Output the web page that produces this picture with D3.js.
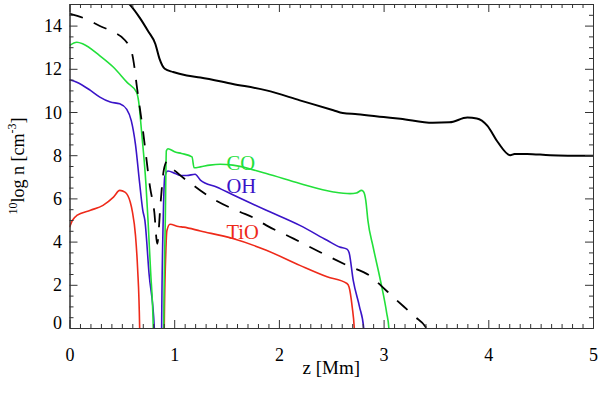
<!DOCTYPE html>
<html><head><meta charset="utf-8">
<script src="https://cdn.jsdelivr.net/npm/d3@7"></script>
<style>body{margin:0;background:#fff}svg{display:block}svg text{font-family:"Liberation Serif","Times New Roman",Times,"DejaVu Serif",serif !important}</style>
</head><body><svg id="c" width="600" height="395" font-family="Liberation Serif, Times New Roman, serif"></svg>
<script>
// ---- data: z [Mm] and 10log n [cm^-3] ----
const xTicks = [0,1,2,3,4,5];
const yTicks = [0,2,4,6,8,10,12,14];
const seriesLabels = ["CO","OH","TiO"];

const totalZ = [0.55,0.58,0.67,0.75,0.82,0.86,0.91,0.99,1.12,1.25,1.56,1.88,2.2,2.52,2.61,2.75,3.0,3.16,3.47,3.63,3.8,3.89,3.99,4.09,4.21,4.25,4.37,4.59,5.0];
const totalV = [15.1,14.95,14.37,13.75,13.15,12.46,12.0,11.85,11.69,11.6,11.3,11.0,10.54,10.08,9.95,9.9,9.77,9.69,9.5,9.52,9.74,9.7,9.37,8.61,8.0,8.05,8.06,8.0,7.97];

const dashZ = [0,0.16,0.29,0.42,0.53,0.59,0.62,0.64,0.70,0.77,0.81,0.838,0.87,0.90,0.93,0.94,1.02,1.25,1.37,1.63,1.76,1.88,2.14,2.39,2.65,2.89,2.98,3.09,3.3,3.4,3.43];
const dashV = [14.55,14.3,13.98,13.7,13.32,12.85,12.08,11.3,9.2,6.5,5.37,3.9,5.8,7.3,7.7,7.6,7.23,6.37,5.98,5.37,5.1,4.75,4.14,3.52,2.9,2.34,1.94,1.44,0.52,0.06,-0.2];

const coZ = [0,0.07,0.13,0.29,0.42,0.55,0.64,0.66,0.69,0.73,0.75,0.775,0.80,0.801,0.899,0.90,0.915,0.925,0.94,1.01,1.07,1.17,1.19,1.25,1.34,1.44,1.56,1.88,2.2,2.52,2.68,2.74,2.79,2.81,2.83,2.85,2.9,2.97,3.03,3.05,3.06];
const coV = [13.08,13.23,13.15,12.6,12.07,11.37,10.92,10.5,9.0,6.67,4.98,2.6,0,-1,-1,0,5.0,8.2,8.3,8.15,8.08,7.92,7.42,7.46,7.54,7.58,7.54,7.15,6.69,6.3,6.22,6.25,6.37,6.3,5.9,4.98,3.75,2.2,0.68,0,-1];

const ohZ = [0,0.07,0.2,0.29,0.39,0.48,0.547,0.59,0.63,0.67,0.70,0.72,0.76,0.81,0.811,0.879,0.88,0.895,0.91,0.94,1.01,1.06,1.12,1.2,1.25,1.41,1.56,1.88,2.2,2.46,2.58,2.65,2.67,2.71,2.77,2.81,2.82];
const ohV = [11.49,11.38,11.0,10.69,10.46,10.38,10.12,9.6,8.5,6.7,5.45,4.98,2.5,0,-1,-1,0,5.0,7.0,7.27,7.15,7.06,7.06,7.12,6.85,6.52,6.17,5.45,4.75,4.06,3.75,3.65,3.5,2.2,0.98,0,-1];

const tioZ = [0,0.03,0.07,0.2,0.32,0.42,0.48,0.53,0.58,0.60,0.63,0.65,0.67,0.671,0.904,0.905,0.92,0.93,0.96,1.04,1.09,1.25,1.56,1.88,2.2,2.46,2.65,2.67,2.7,2.72,2.73];
const tioV = [4.67,5.0,5.21,5.45,5.68,6.06,6.37,6.29,5.83,5.4,4.3,2.8,0,-1,-1,0,3.5,4.5,4.8,4.7,4.67,4.49,4.14,3.6,2.9,2.37,2.06,1.9,0.98,0,-1];

// ---- layout ----
const FONT = "Liberation Serif, Times New Roman, serif";
const svg = d3.select("#c");
const L = 69.5, R = 593, T = 4, B = 328;
const x = d3.scaleLinear().domain([0,5]).range([L,R]);
const y = d3.scaleLinear().domain([0,15]).range([B,T]);

svg.append("defs").append("clipPath").attr("id","clip")
  .append("rect").attr("x",L).attr("y",T).attr("width",R-L).attr("height",B-T);

const zip = (a,b)=>a.map((v,i)=>[v,b[i]]);
const g = svg.append("g").attr("clip-path","url(#clip)");

function draw(zs, vs, color, w, dash, curve){
  const line = d3.line().x(d=>x(d[0])).y(d=>y(d[1])).curve(curve);
  const p = g.append("path").datum(zip(zs,vs)).attr("d",line)
    .attr("fill","none").attr("stroke",color).attr("stroke-width",w)
    .attr("stroke-linejoin","round");
  if(dash) p.attr("stroke-dasharray",dash);
}
const cCO="#22e03a", cOH="#3a14c8", cTiO="#ee2a1a";
const smooth = d3.curveMonotoneX;
draw(tioZ,tioV,cTiO,1.6,null,smooth);
draw(ohZ,ohV,cOH,1.6,null,smooth);
draw(coZ,coV,cCO,1.6,null,smooth);
draw(dashZ,dashV,"#000",1.8,"14,12",smooth);
draw(totalZ,totalV,"#000",2,null,smooth);

// ---- axes ----
const axColor="#333";
const xMinor = d3.range(0,5.0001,0.1).filter(v=>Math.abs(v-Math.round(v))>1e-6);
const yMinor = d3.range(0,15.0001,0.5).filter(v=>Math.abs(v/2-Math.round(v/2))>1e-6);

function ax(gen, pos, major, minor, labels){
  const a1 = svg.append("g").attr("transform",pos)
    .call(gen.tickValues(major).tickSizeInner(-8).tickSizeOuter(0).tickFormat(labels?d3.format("d"):""));
  const a2 = svg.append("g").attr("transform",pos)
    .call(gen.tickValues(minor).tickSizeInner(-4).tickSizeOuter(0).tickFormat(""));
  [a1,a2].forEach(a=>{a.attr("font-family",FONT);a.selectAll("path,line").attr("stroke",axColor).attr("stroke-width",1);});
  return a1;
}
const xb = ax(d3.axisBottom(x), `translate(0,${B})`, xTicks, xMinor, true);
ax(d3.axisTop(x), `translate(0,${T})`, xTicks, xMinor, false);
const yl = ax(d3.axisLeft(y), `translate(${L},0)`, yTicks, yMinor, true);
ax(d3.axisRight(y), `translate(${R},0)`, yTicks, yMinor, false);

xb.selectAll("text").attr("font-size",18).attr("fill","#000").attr("y",null).attr("dy",null)
  .attr("transform","translate(0,33)").attr("text-anchor","middle").attr("font-family",FONT);
yl.selectAll("text").attr("font-size",18).attr("fill","#000").attr("x",-7.5).attr("dy",null)
  .attr("y",d=>d===0?0:6).attr("text-anchor","end").attr("font-family",FONT);

// ---- titles ----
svg.append("text").attr("x",(L+R)/2).attr("y",374).attr("text-anchor","middle")
  .attr("font-size",19).attr("font-family",FONT).text("z [Mm]");

const yt = svg.append("text").attr("transform",`translate(24,${(T+B)/2}) rotate(-90)`)
  .attr("text-anchor","middle").attr("font-size",18).attr("font-family",FONT);
yt.append("tspan").attr("font-size",12).attr("dy",-7).text("10");
yt.append("tspan").attr("dy",7).text("log n [cm");
yt.append("tspan").attr("font-size",12).attr("dy",-8).text("-3");
yt.append("tspan").attr("dy",8).text("]");

// ---- series labels ----
const labColors=[cCO,cOH,cTiO], labV=[7.3,6.27,4.1];
seriesLabels.forEach((s,i)=>{
  svg.append("text").attr("x",x(1.5)).attr("y",y(labV[i])).attr("font-size",20.5)
    .attr("font-family",FONT).attr("fill",labColors[i]).text(s);
});
</script></body></html>
